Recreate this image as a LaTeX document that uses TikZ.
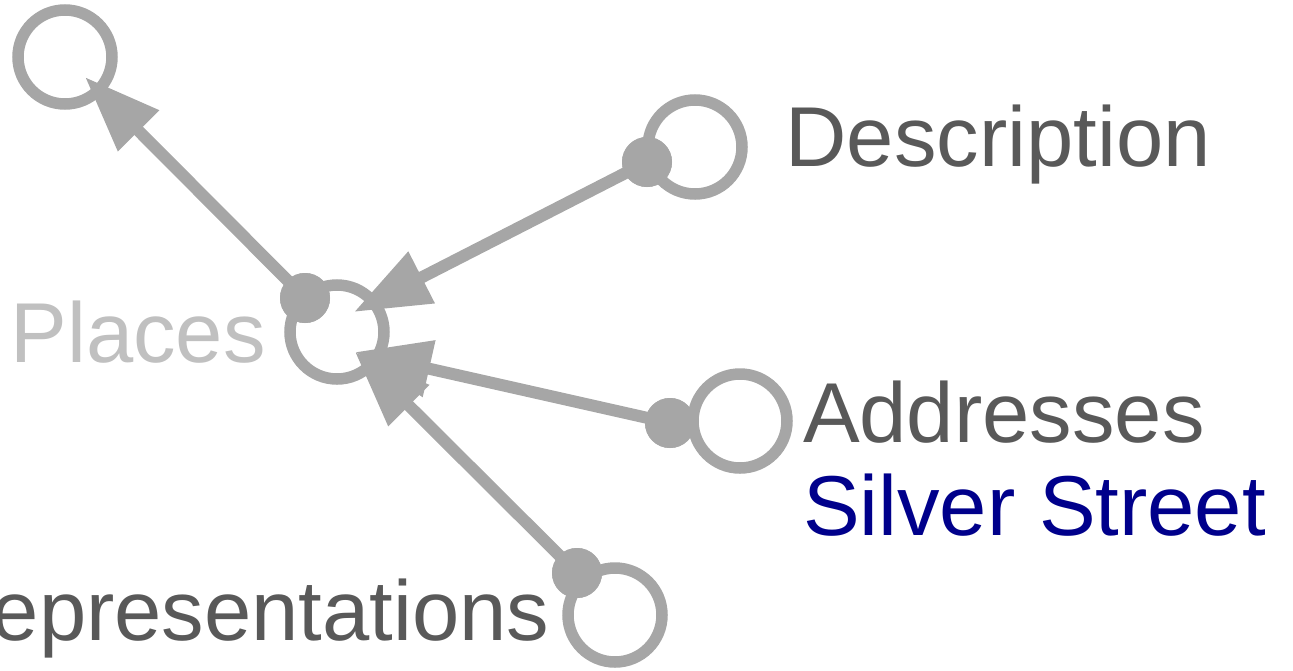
\documentclass[tikz,border=0pt]{standalone}
\usepackage{fontspec}
\setmainfont{Liberation Sans}
\usetikzlibrary{arrows.meta}
\definecolor{ringgray}{HTML}{A6A6A6}
\definecolor{textgray}{HTML}{595959}
\definecolor{placesgray}{HTML}{C0C0C0}
\definecolor{streetblue}{HTML}{00008B}
\begin{document}
\begin{tikzpicture}[x=1pt,y=-1pt,
  ring/.style={circle,draw=ringgray,line width=11.5pt,minimum size=94pt,inner sep=0pt,outer sep=0pt},
  knob/.style={circle,fill=ringgray,minimum size=50pt,inner sep=0pt,outer sep=0pt},
  link/.style={draw=ringgray,line width=12pt,-{Triangle[length=76pt,width=55pt]}},
  lbl/.style={inner sep=0pt,outer sep=0pt,font=\fontsize{85}{93}\selectfont,text=textgray}]
\useasboundingbox (0,0) rectangle (1293,670);
% rings
\node[ring] (top) at (65,57) {};
\node[ring] (places) at (337,332) {};
\node[ring] (descr) at (695,147) {};
\node[ring] (addr) at (740,421) {};
\node[ring] (repr) at (615,615) {};
% tips
\coordinate (tipTop) at (85,77);
\coordinate (tipD) at (354,312);
\coordinate (tipA) at (355,352);
\coordinate (tipR) at (355,352);
% dots
\node[knob] (pdot) at (305,298) {};
\node[knob] (ddot) at (647,162) {};
\node[knob] (adot) at (670,423) {};
\node[knob] (rdot) at (577,573) {};
% connectors
\draw[link] (pdot.center) -- (tipTop);
\draw[link] (ddot.center) -- (tipD);
\draw[link] (adot.center) -- (tipA);
\draw[link] (rdot.center) -- (tipR);
% redraw dots on top
\node[knob] at (pdot) {};
\node[knob] at (ddot) {};
\node[knob] at (adot) {};
\node[knob] at (rdot) {};
% labels
\node[lbl,anchor=base west] (descl) at (785.5,166) {Description};
\node[lbl,anchor=base west,text=placesgray] (placesl) at (10.5,362) {Places};
\node[lbl,anchor=base west] (addrl) at (803,442) {Addresses};
\node[lbl,anchor=base west,text=streetblue] (streetl) at (803,535) {Silver Street};
\node[lbl,anchor=base east] (reprl) at (549.5,640) {Representations};
\end{tikzpicture}
\end{document}
